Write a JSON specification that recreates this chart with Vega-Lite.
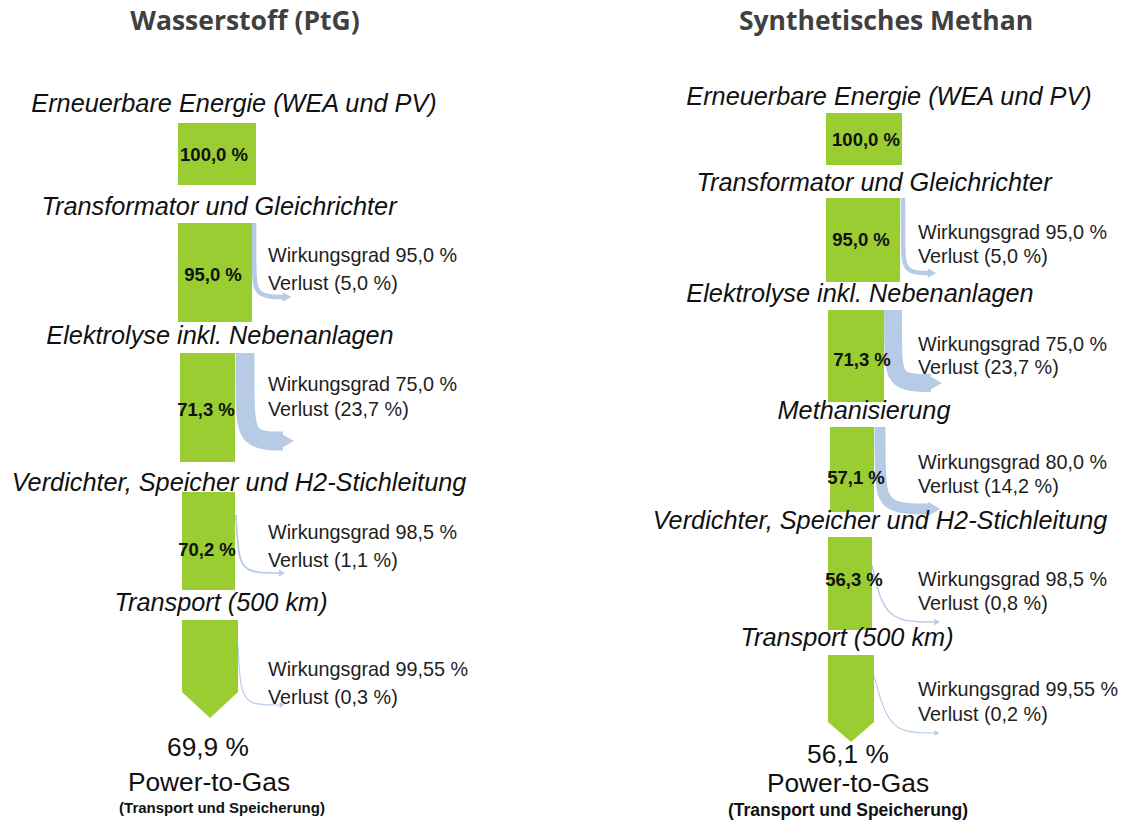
{
  "$schema": "https://vega.github.io/schema/vega-lite/v6.json",
  "width": 1123,
  "height": 823,
  "autosize": {"type": "fit", "contains": "padding"},
  "padding": 0,
  "background": "white",
  "config": {"view": {"stroke": null}},
  "datasets": {
    "blocks": [
      {"panel": "H2", "x1": 178, "x2": 256, "y1": 123, "y2": 185, "pct": "100,0 %", "lx": 214, "ly": 155},
      {"panel": "H2", "x1": 178, "x2": 252, "y1": 223, "y2": 322, "pct": "95,0 %", "lx": 213, "ly": 275},
      {"panel": "H2", "x1": 180, "x2": 235, "y1": 353, "y2": 462, "pct": "71,3 %", "lx": 206, "ly": 410},
      {"panel": "H2", "x1": 182, "x2": 235, "y1": 492, "y2": 590, "pct": "70,2 %", "lx": 207, "ly": 550},
      {"panel": "CH4", "x1": 826, "x2": 902, "y1": 113, "y2": 165, "pct": "100,0 %", "lx": 866, "ly": 140},
      {"panel": "CH4", "x1": 826, "x2": 900, "y1": 198, "y2": 282, "pct": "95,0 %", "lx": 861, "ly": 240},
      {"panel": "CH4", "x1": 828, "x2": 884, "y1": 310, "y2": 402, "pct": "71,3 %", "lx": 862, "ly": 360},
      {"panel": "CH4", "x1": 830, "x2": 874, "y1": 427, "y2": 512, "pct": "57,1 %", "lx": 856, "ly": 478},
      {"panel": "CH4", "x1": 828, "x2": 872, "y1": 537, "y2": 630, "pct": "56,3 %", "lx": 854, "ly": 580}
    ],
    "transport": [
      {"id": "H2", "x": 182, "top": 620, "bottom": 692},
      {"id": "H2", "x": 210, "top": 620, "bottom": 718},
      {"id": "H2", "x": 238, "top": 620, "bottom": 692},
      {"id": "CH4", "x": 828, "top": 655, "bottom": 722},
      {"id": "CH4", "x": 851, "top": 655, "bottom": 742},
      {"id": "CH4", "x": 874, "top": 655, "bottom": 722}
    ],
    "lossH2": [
      {"id": "a", "loss": 5.0, "o": 1, "x": 254, "y": 223},
      {"id": "a", "loss": 5.0, "o": 2, "x": 254, "y": 270},
      {"id": "a", "loss": 5.0, "o": 3, "x": 255, "y": 297},
      {"id": "a", "loss": 5.0, "o": 4, "x": 284, "y": 297},
      {"id": "b", "loss": 23.7, "o": 1, "x": 245, "y": 353},
      {"id": "b", "loss": 23.7, "o": 2, "x": 245, "y": 405},
      {"id": "b", "loss": 23.7, "o": 3, "x": 247, "y": 441},
      {"id": "b", "loss": 23.7, "o": 4, "x": 283, "y": 441},
      {"id": "c", "loss": 1.1, "o": 1, "x": 236, "y": 515},
      {"id": "c", "loss": 1.1, "o": 2, "x": 238, "y": 556},
      {"id": "c", "loss": 1.1, "o": 3, "x": 246, "y": 573},
      {"id": "c", "loss": 1.1, "o": 4, "x": 279, "y": 573},
      {"id": "d", "loss": 0.3, "o": 1, "x": 238, "y": 645},
      {"id": "d", "loss": 0.3, "o": 2, "x": 240, "y": 688},
      {"id": "d", "loss": 0.3, "o": 3, "x": 248, "y": 705},
      {"id": "d", "loss": 0.3, "o": 4, "x": 279, "y": 705}
    ],
    "lossCH4": [
      {"id": "a", "loss": 5.0, "o": 1, "x": 903, "y": 198},
      {"id": "a", "loss": 5.0, "o": 2, "x": 903, "y": 248},
      {"id": "a", "loss": 5.0, "o": 3, "x": 904, "y": 273},
      {"id": "a", "loss": 5.0, "o": 4, "x": 930, "y": 273},
      {"id": "b", "loss": 23.7, "o": 1, "x": 893, "y": 310},
      {"id": "b", "loss": 23.7, "o": 2, "x": 893, "y": 352},
      {"id": "b", "loss": 23.7, "o": 3, "x": 895, "y": 383},
      {"id": "b", "loss": 23.7, "o": 4, "x": 931, "y": 383},
      {"id": "c", "loss": 14.2, "o": 1, "x": 880, "y": 427},
      {"id": "c", "loss": 14.2, "o": 2, "x": 880, "y": 478},
      {"id": "c", "loss": 14.2, "o": 3, "x": 884, "y": 509},
      {"id": "c", "loss": 14.2, "o": 4, "x": 931, "y": 509},
      {"id": "d", "loss": 0.8, "o": 1, "x": 872, "y": 565},
      {"id": "d", "loss": 0.8, "o": 2, "x": 880, "y": 602},
      {"id": "d", "loss": 0.8, "o": 3, "x": 896, "y": 622},
      {"id": "d", "loss": 0.8, "o": 4, "x": 934, "y": 622},
      {"id": "e", "loss": 0.2, "o": 1, "x": 874, "y": 675},
      {"id": "e", "loss": 0.2, "o": 2, "x": 884, "y": 714},
      {"id": "e", "loss": 0.2, "o": 3, "x": 900, "y": 733},
      {"id": "e", "loss": 0.2, "o": 4, "x": 934, "y": 733}
    ],
    "heads": [
      {"x": 287, "y": 297, "loss": 5.0},
      {"x": 286, "y": 441, "loss": 23.7},
      {"x": 282, "y": 573, "loss": 1.1},
      {"x": 282, "y": 705, "loss": 0.3},
      {"x": 932, "y": 273, "loss": 5.0},
      {"x": 934, "y": 383, "loss": 23.7},
      {"x": 934, "y": 509, "loss": 14.2},
      {"x": 937, "y": 622, "loss": 0.8},
      {"x": 937, "y": 733, "loss": 0.2}
    ],
    "stages": [
      {"x": 234, "y": 104, "t": "Erneuerbare Energie (WEA und PV)"},
      {"x": 219, "y": 207, "t": "Transformator und Gleichrichter"},
      {"x": 220, "y": 336, "t": "Elektrolyse inkl. Nebenanlagen"},
      {"x": 239, "y": 483, "t": "Verdichter, Speicher und H2-Stichleitung"},
      {"x": 221, "y": 603, "t": "Transport (500 km)"},
      {"x": 889, "y": 97, "t": "Erneuerbare Energie (WEA und PV)"},
      {"x": 874, "y": 183, "t": "Transformator und Gleichrichter"},
      {"x": 860, "y": 294, "t": "Elektrolyse inkl. Nebenanlagen"},
      {"x": 864, "y": 411, "t": "Methanisierung"},
      {"x": 880, "y": 521, "t": "Verdichter, Speicher und H2-Stichleitung"},
      {"x": 847, "y": 638, "t": "Transport (500 km)"}
    ],
    "effs": [
      {"x": 268, "y": 256, "t": "Wirkungsgrad 95,0 %"},
      {"x": 268, "y": 284, "t": "Verlust (5,0 %)"},
      {"x": 268, "y": 385, "t": "Wirkungsgrad 75,0 %"},
      {"x": 268, "y": 410, "t": "Verlust (23,7 %)"},
      {"x": 268, "y": 533, "t": "Wirkungsgrad 98,5 %"},
      {"x": 268, "y": 561, "t": "Verlust (1,1 %)"},
      {"x": 268, "y": 670, "t": "Wirkungsgrad 99,55 %"},
      {"x": 268, "y": 698, "t": "Verlust (0,3 %)"},
      {"x": 918, "y": 233, "t": "Wirkungsgrad 95,0 %"},
      {"x": 918, "y": 257, "t": "Verlust (5,0 %)"},
      {"x": 918, "y": 345, "t": "Wirkungsgrad 75,0 %"},
      {"x": 918, "y": 368, "t": "Verlust (23,7 %)"},
      {"x": 918, "y": 463, "t": "Wirkungsgrad 80,0 %"},
      {"x": 918, "y": 487, "t": "Verlust (14,2 %)"},
      {"x": 918, "y": 580, "t": "Wirkungsgrad 98,5 %"},
      {"x": 918, "y": 604, "t": "Verlust (0,8 %)"},
      {"x": 918, "y": 690, "t": "Wirkungsgrad 99,55 %"},
      {"x": 918, "y": 715, "t": "Verlust (0,2 %)"}
    ],
    "titles": [
      {"x": 245, "y": 22, "t": "Wasserstoff (PtG)"},
      {"x": 886, "y": 22, "t": "Synthetisches Methan"}
    ],
    "results": [
      {"x": 208, "y": 748, "t": "69,9 %"},
      {"x": 848, "y": 755, "t": "56,1 %"}
    ],
    "ptg": [
      {"x": 209, "y": 783, "t": "Power-to-Gas"},
      {"x": 848, "y": 784, "t": "Power-to-Gas"}
    ],
    "subs": [
      {"x": 222, "y": 808, "t": "(Transport und Speicherung)", "s": "H2"},
      {"x": 848, "y": 811, "t": "(Transport und Speicherung)", "s": "CH4"}
    ]
  },
  "encoding": {
    "x": {"field": "x", "type": "quantitative", "scale": {"domain": [0, 1123]}, "axis": null},
    "y": {"field": "y", "type": "quantitative", "scale": {"domain": [0, 823], "reverse": true}, "axis": null}
  },
  "layer": [
    {
      "data": {"name": "lossH2"},
      "mark": {"type": "line", "color": "#b7cbe6", "interpolate": "basis", "strokeCap": "butt"},
      "encoding": {
        "detail": {"field": "id"},
        "order": {"field": "o", "type": "quantitative"},
        "strokeWidth": {"field": "loss", "type": "quantitative", "scale": {"domain": [0, 24], "range": [0.9, 19]}, "legend": null}
      }
    },
    {
      "data": {"name": "lossCH4"},
      "mark": {"type": "line", "color": "#b7cbe6", "interpolate": "basis", "strokeCap": "butt"},
      "encoding": {
        "detail": {"field": "id"},
        "order": {"field": "o", "type": "quantitative"},
        "strokeWidth": {"field": "loss", "type": "quantitative", "scale": {"domain": [0, 24], "range": [0.9, 18]}, "legend": null}
      }
    },
    {
      "data": {"name": "heads"},
      "mark": {"type": "point", "shape": "triangle-right", "filled": true, "color": "#b7cbe6", "opacity": 1},
      "encoding": {
        "size": {"field": "loss", "type": "quantitative", "scale": {"domain": [0, 24], "range": [30, 330]}, "legend": null}
      }
    },
    {
      "data": {"name": "blocks"},
      "mark": {"type": "rect", "color": "#9acd32"},
      "encoding": {
        "x": {"field": "x1", "type": "quantitative"},
        "x2": {"field": "x2"},
        "y": {"field": "y1", "type": "quantitative"},
        "y2": {"field": "y2"}
      }
    },
    {
      "data": {"name": "transport"},
      "mark": {"type": "area", "color": "#9acd32", "orient": "vertical"},
      "encoding": {
        "detail": {"field": "id"},
        "y": {"field": "top", "type": "quantitative"},
        "y2": {"field": "bottom"}
      }
    },
    {
      "data": {"name": "blocks"},
      "mark": {"type": "text", "font": "Liberation Sans", "fontWeight": "bold", "fontSize": 18.5, "color": "#111111", "align": "center", "baseline": "middle"},
      "encoding": {
        "x": {"field": "lx", "type": "quantitative"},
        "y": {"field": "ly", "type": "quantitative"},
        "text": {"field": "pct"}
      }
    },
    {
      "data": {"name": "stages"},
      "mark": {"type": "text", "font": "Liberation Sans", "fontStyle": "italic", "fontSize": 25.3, "color": "#111111", "align": "center", "baseline": "middle"},
      "encoding": {"text": {"field": "t"}}
    },
    {
      "data": {"name": "effs"},
      "mark": {"type": "text", "font": "Liberation Sans", "fontSize": 19.8, "color": "#1e1e1e", "align": "left", "baseline": "middle"},
      "encoding": {"text": {"field": "t"}}
    },
    {
      "data": {"name": "titles"},
      "mark": {"type": "text", "font": "Open Sans", "fontWeight": "bold", "fontSize": 26.5, "color": "#404040", "align": "center", "baseline": "middle"},
      "encoding": {"text": {"field": "t"}}
    },
    {
      "data": {"name": "results"},
      "mark": {"type": "text", "font": "Liberation Sans", "fontSize": 26.3, "color": "#111111", "align": "center", "baseline": "middle"},
      "encoding": {"text": {"field": "t"}}
    },
    {
      "data": {"name": "ptg"},
      "mark": {"type": "text", "font": "Liberation Sans", "fontSize": 26.3, "color": "#111111", "align": "center", "baseline": "middle"},
      "encoding": {"text": {"field": "t"}}
    },
    {
      "data": {"name": "subs"},
      "mark": {"type": "text", "font": "Liberation Sans", "fontWeight": "bold", "color": "#111111", "align": "center", "baseline": "middle"},
      "encoding": {
        "text": {"field": "t"},
        "size": {"field": "s", "type": "nominal", "scale": {"domain": ["H2", "CH4"], "range": [15, 17.5]}, "legend": null}
      }
    }
  ],
  "resolve": {"scale": {"strokeWidth": "independent", "size": "independent"}}
}
